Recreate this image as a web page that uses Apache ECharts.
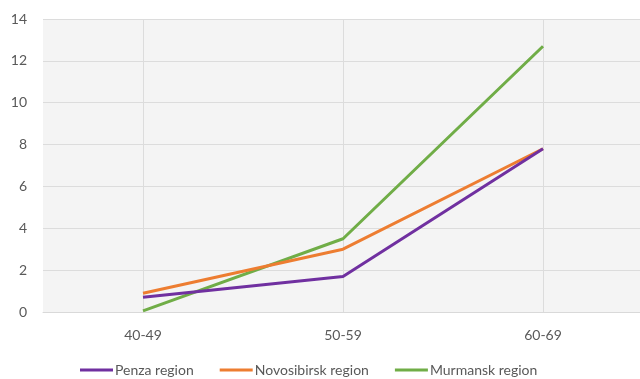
<!DOCTYPE html>
<html>
<head>
<meta charset="utf-8">
<script src="https://cdn.jsdelivr.net/npm/echarts@6/dist/echarts.min.js"></script>
<style>
  html, body { margin: 0; padding: 0; background: #ffffff; overflow: hidden; }
  /* plot area runs a few pixels past the right edge of the page */
  #chart { width: 643px; height: 379px; }
</style>
</head>
<body>
<div id="chart"></div>
<script>
// Age groups on the category axis
const ageGroups = ['40-49', '50-59', '60-69'];

// Values per region
const penza = [0.7, 1.7, 7.8];
const novosibirsk = [0.9, 3.0, 7.8];
const murmansk = [0.05, 3.5, 12.7];

const seriesNames = ['Penza region', 'Novosibirsk region', 'Murmansk region'];
const seriesColors = ['#7030a0', '#ed7d31', '#70ad47'];
const seriesValues = [penza, novosibirsk, murmansk];

// Helper axis positions for vertical grid lines through the category centres
const gridSteps = ['0', '1', '2', '3', '4', '5', '6'];

const fontFamily = 'Lato, "Open Sans", sans-serif';

const chart = echarts.init(document.getElementById('chart'), null, { renderer: 'canvas' });

chart.setOption({
  animation: false,
  backgroundColor: '#ffffff',
  textStyle: { fontFamily: fontFamily },
  grid: {
    left: 43,
    top: 19,
    right: 0,
    bottom: 67,
    show: true,
    backgroundColor: '#f4f4f4',
    borderWidth: 0
  },
  legend: {
    top: 358,
    left: 75,
    itemWidth: 33,
    itemHeight: 3,
    itemGap: 26,
    icon: 'rect',
    textStyle: { fontFamily: fontFamily, fontSize: 14, color: '#595959', padding: [0, 0, 0, -3] },
    data: seriesNames
  },
  xAxis: [
    {
      type: 'category',
      data: ageGroups,
      boundaryGap: true,
      axisLine: { show: true, lineStyle: { color: '#d9d9d9', width: 1 } },
      axisTick: { show: false },
      splitLine: { show: false },
      axisLabel: { color: '#595959', fontSize: 14, margin: 16, fontFamily: fontFamily }
    },
    {
      type: 'category',
      data: gridSteps,
      boundaryGap: false,
      position: 'bottom',
      axisLine: { show: false },
      axisTick: { show: false },
      axisLabel: { show: false },
      splitLine: {
        show: true,
        interval: function (index) { return index % 2 === 1; },
        lineStyle: { color: '#dcdcdc', width: 1 }
      }
    }
  ],
  yAxis: {
    type: 'value',
    min: 0,
    max: 14,
    interval: 2,
    axisLine: { show: false },
    axisTick: { show: false },
    axisLabel: { color: '#595959', fontSize: 14, margin: 16, fontFamily: fontFamily },
    splitLine: { show: true, lineStyle: { color: '#dcdcdc', width: 1 } }
  },
  series: seriesNames.map(function (name, i) {
    return {
      name: name,
      type: 'line',
      xAxisIndex: 0,
      data: seriesValues[i],
      symbol: 'none',
      color: seriesColors[i],
      lineStyle: { width: 3, color: seriesColors[i] },
      z: 3 + (2 - i)
    };
  })
});
</script>
</body>
</html>
